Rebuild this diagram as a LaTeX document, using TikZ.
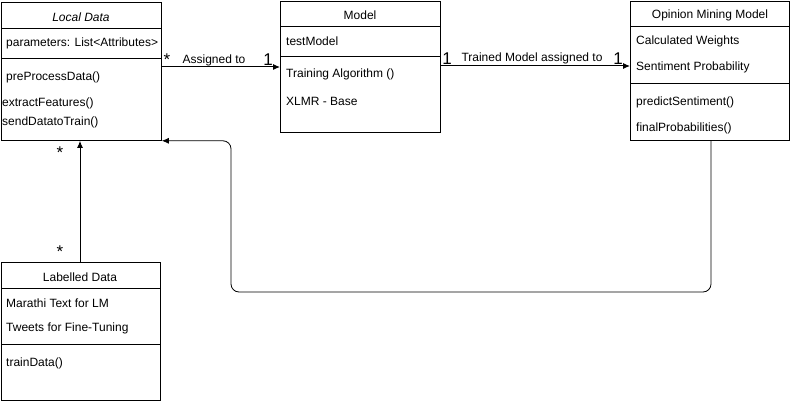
\documentclass[tikz,border=0pt]{standalone}
\usepackage{fontspec}
\setmainfont{Liberation Sans}
\usetikzlibrary{arrows.meta}
\begin{document}
\begin{tikzpicture}[x=1pt,y=-1pt,
  box/.style={draw,line width=0.8pt,anchor=north west,inner sep=0pt},
  txt/.style={anchor=west,inner sep=0pt,font=\fontsize{12}{14}\selectfont,yshift=-1.5pt},
  ttl/.style={anchor=center,inner sep=0pt,font=\fontsize{12}{14}\selectfont,yshift=-1pt},
  lbl/.style={inner sep=0pt,font=\fontsize{12}{14}\selectfont},
  mult/.style={inner sep=0pt,font=\fontsize{17}{17}\selectfont},
  conn/.style={line width=1pt,-{Latex[length=7pt,width=6pt]}},
  divider/.style={line width=0.8pt}]
\useasboundingbox (0,0) rectangle (791,401);
% Local Data
\node[box,minimum width=160pt,minimum height=138pt] (ld) at (1,2) {};
\draw[divider] ([yshift=-26pt]ld.north west) -- ([yshift=-26pt]ld.north east);
\draw[divider] ([yshift=-56pt]ld.north west) -- ([yshift=-56pt]ld.north east);
\node[ttl,font=\fontsize{12}{14}\itshape] (ldt) at (81,16) {Local Data};
\node[txt] (lda) at (6,42) {parameters: List<Attributes>};
\node[txt] (ldm1) at (6,76) {preProcessData()};
\node[txt] (ldm2) at (2,102) {extractFeatures()};
\node[txt] (ldm3) at (2,121) {sendDatatoTrain()};
% Model
\node[box,minimum width=160pt,minimum height=131pt] (m) at (280,1) {};
\draw[divider] ([yshift=-25pt]m.north west) -- ([yshift=-25pt]m.north east);
\draw[divider] ([yshift=-55pt]m.north west) -- ([yshift=-55pt]m.north east);
\node[ttl] (mt) at (360,14) {Model};
\node[txt] (ma) at (286,40) {testModel};
\node[txt] (mm1) at (286,73) {Training Algorithm ()};
\node[txt] (mm2) at (286,100) {XLMR - Base};
% Opinion Mining Model
\node[box,minimum width=159pt,minimum height=139pt] (om) at (630,1) {};
\draw[divider] ([yshift=-25pt]om.north west) -- ([yshift=-25pt]om.north east);
\draw[divider] ([yshift=-82pt]om.north west) -- ([yshift=-82pt]om.north east);
\node[ttl] (omt) at (710,14) {Opinion Mining Model};
\node[txt] (oma1) at (636,40) {Calculated Weights};
\node[txt] (oma2) at (636,66) {Sentiment Probability};
\node[txt] (omm1) at (636,101) {predictSentiment()};
\node[txt] (omm2) at (636,127) {finalProbabilities()};
% Labelled Data
\node[box,minimum width=159pt,minimum height=138pt] (lb) at (1,262) {};
\draw[divider] ([yshift=-26pt]lb.north west) -- ([yshift=-26pt]lb.north east);
\draw[divider] ([yshift=-82pt]lb.north west) -- ([yshift=-82pt]lb.north east);
\node[ttl] (lbt) at (80,276) {Labelled Data};
\node[txt] (lba1) at (6,302) {Marathi Text for LM};
\node[txt] (lba2) at (6,327) {Tweets for Fine-Tuning};
\node[txt] (lbm1) at (6,362) {trainData()};
% connectors
\draw[conn] ([yshift=-65pt]ld.north east) -- ([yshift=-66pt]m.north west);
\draw[conn] ([yshift=-65pt]m.north east) -- ([yshift=-65pt]om.north west);
\draw[conn] (lb.north -| 80,0) -- (ld.south -| 80,0);
\coordinate (fb1) at (711,292);
\coordinate (fb2) at (231,292);
\draw[conn,line width=0.8pt,rounded corners=8pt] (om.south -| fb1) -- (fb1) -- (fb2) -- (fb2 |- ld.south east) -- (ld.south east);
% labels
\node[mult] (s1) at (167,60) {*};
\node[lbl] (l1) at (214,60) {Assigned to};
\node[mult] (o1) at (268,60) {1};
\node[mult] (o2) at (447,59) {1};
\node[lbl] (l2) at (532,58) {Trained Model assigned to};
\node[mult] (o3) at (618,59) {1};
\node[mult] (s2) at (60,153) {*};
\node[mult] (s3) at (60,252) {*};
\end{tikzpicture}
\end{document}
